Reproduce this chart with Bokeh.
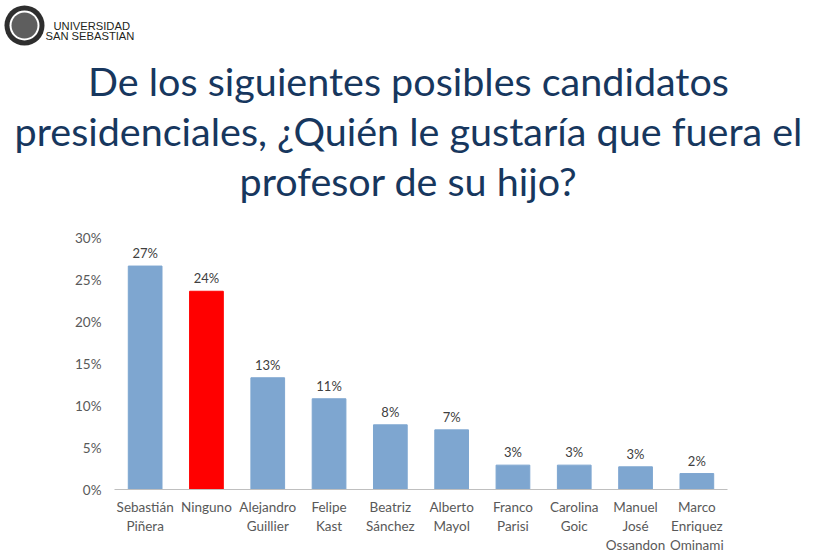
from bokeh.plotting import figure
from bokeh.layouts import column
from bokeh.models import ColumnDataSource, FactorRange, Range1d, NumeralTickFormatter
from bokeh.core.properties import value
from bokeh.embed import file_html
from bokeh.resources import INLINE

candidates = ["Sebastián\nPiñera", "Ninguno", "Alejandro\nGuillier", "Felipe\nKast",
              "Beatriz\nSánchez", "Alberto\nMayol", "Franco\nParisi", "Carolina\nGoic",
              "Manuel\nJosé\nOssandon", "Marco\nEnriquez\nOminami"]
shares = [0.266, 0.236, 0.133, 0.108, 0.077, 0.071, 0.029, 0.029, 0.027, 0.019]
share_labels = ["27%", "24%", "13%", "11%", "8%", "7%", "3%", "3%", "3%", "2%"]
bar_colors = ["#7EA6D0", "#FF0000", "#7EA6D0", "#7EA6D0", "#7EA6D0", "#7EA6D0",
              "#7EA6D0", "#7EA6D0", "#7EA6D0", "#7EA6D0"]
title_lines = ["De los siguientes posibles candidatos",
               "presidenciales, ¿Quién le gustaría que fuera el",
               "profesor de su hijo?"]
logo_lines = ["UNIVERSIDAD", "SAN SEBASTIAN"]

FONT = "Lato"
W, H = 820, 559
HH = 220          # header height
FL, FR, FT, FB = 114, 727, 237, 489   # frame edges in page px

# ---------------- header (title + logo) ----------------
hdr = figure(width=W, height=HH, x_range=Range1d(0, W), y_range=Range1d(HH, 0),
             output_backend="svg", toolbar_location=None, min_border=0,
             outline_line_color=None)
hdr.axis.visible = False
hdr.grid.visible = False
hdr.text(x=[408, 408, 408], y=[80, 130, 180], text=title_lines, text_align="center",
         text_baseline="middle", text_font=value(FONT), text_font_size="39.5px",
         text_color="#17375E")
hdr.scatter(x=[24], y=[25], size=40, marker="circle", fill_color="#2E2E2E", line_color=None)
hdr.scatter(x=[24], y=[25], size=30, marker="circle", fill_color="#FFFFFF", line_color=None)
hdr.scatter(x=[24], y=[25], size=26, marker="circle", fill_color="#5E5E5E", line_color=None)
hdr.text(x=[53, 45], y=[25, 35.5], text=logo_lines, text_align="left",
         text_baseline="middle", text_font=value("Liberation Sans"),
         text_font_size="11.2px", text_color="#231F20")

# ---------------- bar chart ----------------
src = ColumnDataSource(dict(x=candidates, y=shares, lab=share_labels, c=bar_colors))

p = figure(width=W, height=H - HH, x_range=FactorRange(*candidates, range_padding=0),
           y_range=Range1d(0, 0.30), output_backend="svg", toolbar_location=None,
           min_border_left=FL, min_border_right=W - FR, min_border_bottom=H - FB,
           min_border_top=FT - HH, outline_line_color=None)
p.vbar(x="x", top="y", width=0.55, color="c", source=src)
p.text(x="x", y="y", text="lab", source=src, text_align="center", text_baseline="bottom",
       y_offset=-5, text_font=value(FONT), text_font_size="13px", text_color="#404040")

p.xgrid.grid_line_color = None
p.ygrid.grid_line_color = None
p.yaxis.ticker = [0, 0.05, 0.10, 0.15, 0.20, 0.25, 0.30]
p.yaxis.formatter = NumeralTickFormatter(format="0%")
p.yaxis.axis_line_color = None
p.yaxis.major_tick_line_color = None
p.yaxis.minor_tick_line_color = None
p.yaxis.major_tick_out = 0
p.yaxis.minor_tick_out = 0
p.xaxis.major_tick_line_color = None
p.xaxis.major_tick_out = 0
p.xaxis.axis_line_color = "#BFBFBF"
for ax in (p.xaxis, p.yaxis):
    ax.major_label_text_font = FONT
    ax.major_label_text_font_size = "13.5px"
    ax.major_label_text_color = "#595959"
p.yaxis.major_label_standoff = 13
p.xaxis.major_label_standoff = 9

# keep the header's frame independent of the chart's frame
for fig in (hdr, p):
    try:
        fig.frame_align = False
    except Exception:
        pass

open("out.html", "w").write(file_html(column(hdr, p, spacing=0), INLINE))
